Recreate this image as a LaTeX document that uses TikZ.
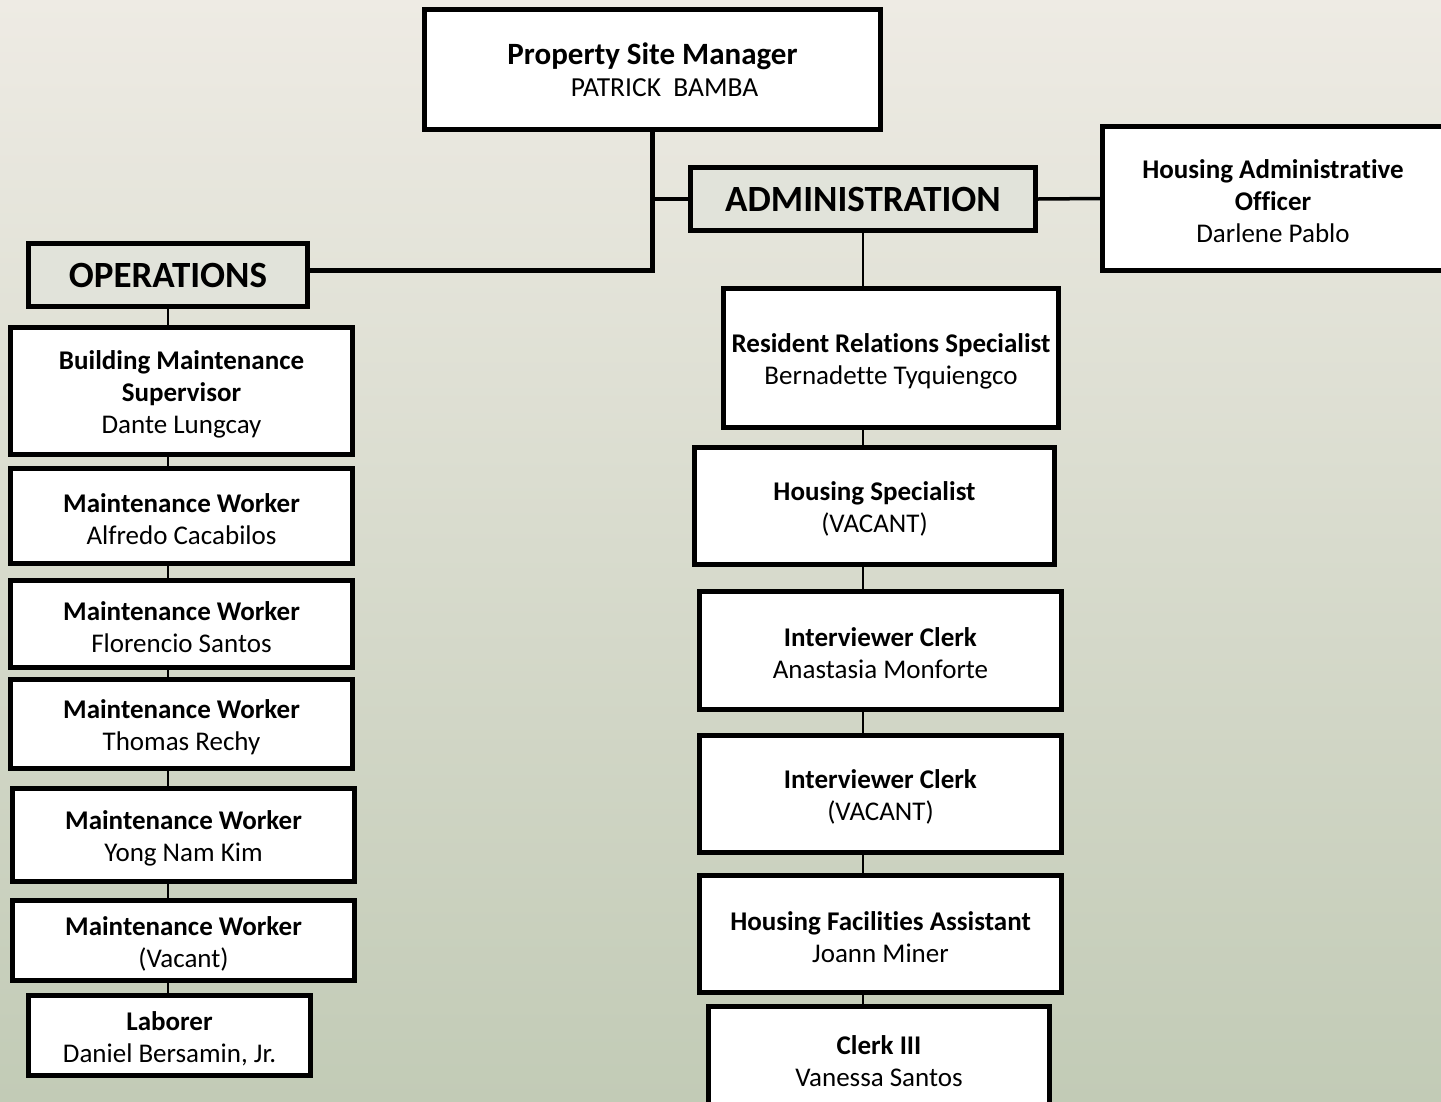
\documentclass[tikz,border=0pt]{standalone}
\usepackage{fontspec}
\setmainfont{Carlito}[Ligatures=NoCommon]
\definecolor{bgtop}{RGB}{238,235,228}
\definecolor{bgbot}{RGB}{194,203,182}
\definecolor{headfill}{RGB}{225,227,218}
\newcommand\tstr{\rule{0pt}{25pt}}
\tikzset{
  box/.style={draw=black, line width=5pt, fill=white, align=center, inner sep=0pt,
    font=\fontsize{27}{32}\selectfont},
  headbox/.style={box, fill=headfill, font=\fontsize{37}{40}\selectfont\bfseries},
  thick link/.style={line width=5pt},
  mid link/.style={line width=3.5pt},
  thin link/.style={line width=2.5pt}
}
\begin{document}
\begin{tikzpicture}[x=1pt,y=-1pt]
\useasboundingbox (0,0) rectangle (1441,1101);
\clip (0,0) rectangle (1441,1101);
\shade[top color=bgtop, bottom color=bgbot] (0,0) rectangle (1441,1101);

% top
\node[box, minimum width=456, minimum height=120] (psm) at (652.5,69.5)
  {{\fontsize{31}{35}\selectfont\bfseries Property Site Manager}\\{\fontsize{27.5}{35}\selectfont\hspace*{24pt}PATRICK\ \ BAMBA}};
\node[headbox, minimum width=345, minimum height=63] (adm) at (863,199) {ADMINISTRATION};
\node[box, minimum width=341, minimum height=144] (hao) at (1273,198.5)
  {\tstr\textbf{Housing Administrative}\\\textbf{Officer}\\Darlene Pablo};
\node[headbox, minimum width=279, minimum height=63] (ops) at (168,275) {OPERATIONS};

% operations column
\node[box, minimum width=342, minimum height=127] (bms) at (181.5,391)
  {\tstr\textbf{Building Maintenance}\\\textbf{Supervisor}\\Dante Lungcay};
\node[box, minimum width=342, minimum height=95] (mw1) at (181.5,516)
  {\tstr\textbf{Maintenance Worker}\\Alfredo Cacabilos};
\node[box, minimum width=342, minimum height=87] (mw2) at (181.5,624)
  {\tstr\textbf{Maintenance Worker}\\Florencio Santos};
\node[box, minimum width=342, minimum height=89] (mw3) at (181.5,724)
  {\tstr\textbf{Maintenance Worker}\\Thomas Rechy};
\node[box, minimum width=342, minimum height=93] (mw4) at (183.5,835)
  {\tstr\textbf{Maintenance Worker}\\Yong Nam Kim};
\node[box, minimum width=342, minimum height=80] (mw5) at (183.5,940.5)
  {\tstr\textbf{Maintenance Worker}\\(Vacant)};
\node[box, minimum width=282, minimum height=80] (lab) at (169.5,1035.5)
  {\tstr\textbf{Laborer}\\Daniel Bersamin, Jr.};

% administration column
\node[box, minimum width=335, minimum height=139] (rrs) at (891,358)
  {\tstr\textbf{Resident Relations Specialist}\\Bernadette Tyquiengco};
\node[box, minimum width=360, minimum height=117] (hs) at (874.5,506)
  {\tstr\textbf{Housing Specialist}\\(VACANT)};
\node[box, minimum width=362, minimum height=118] (ic1) at (880.5,650.5)
  {\tstr\textbf{Interviewer Clerk}\\Anastasia Monforte};
\node[box, minimum width=362, minimum height=117] (ic2) at (880.5,794)
  {\tstr\textbf{Interviewer Clerk}\\(VACANT)};
\node[box, minimum width=362, minimum height=117] (hfa) at (880.5,934)
  {\tstr\textbf{Housing Facilities Assistant}\\Joann Miner};
\node[box, minimum width=341, minimum height=104] (cl3) at (879,1058)
  {\tstr\textbf{Clerk III}\\Vanessa Santos};

% connectors
\coordinate (j) at (psm.south |- 0,270);
\draw[thick link] (psm.south) -- (j) -- (ops.east |- j);
\draw[mid link] (psm.south |- adm.west) -- (adm.west);
\draw[mid link] (adm.east) -- (hao.west);

\draw[thin link] (ops.south) -- (ops.south |- bms.north);
\draw[thin link] (ops.south |- bms.south) -- (ops.south |- mw1.north);
\draw[thin link] (ops.south |- mw1.south) -- (ops.south |- mw2.north);
\draw[thin link] (ops.south |- mw2.south) -- (ops.south |- mw3.north);
\draw[thin link] (ops.south |- mw3.south) -- (ops.south |- mw4.north);
\draw[thin link] (ops.south |- mw4.south) -- (ops.south |- mw5.north);
\draw[thin link] (ops.south |- mw5.south) -- (lab.north -| ops.south);

\draw[thin link] (adm.south) -- (adm.south |- rrs.north);
\draw[thin link] (adm.south |- rrs.south) -- (adm.south |- hs.north);
\draw[thin link] (adm.south |- hs.south) -- (adm.south |- ic1.north);
\draw[thin link] (adm.south |- ic1.south) -- (adm.south |- ic2.north);
\draw[thin link] (adm.south |- ic2.south) -- (adm.south |- hfa.north);
\draw[thin link] (adm.south |- hfa.south) -- (adm.south |- cl3.north);
\end{tikzpicture}
\end{document}
